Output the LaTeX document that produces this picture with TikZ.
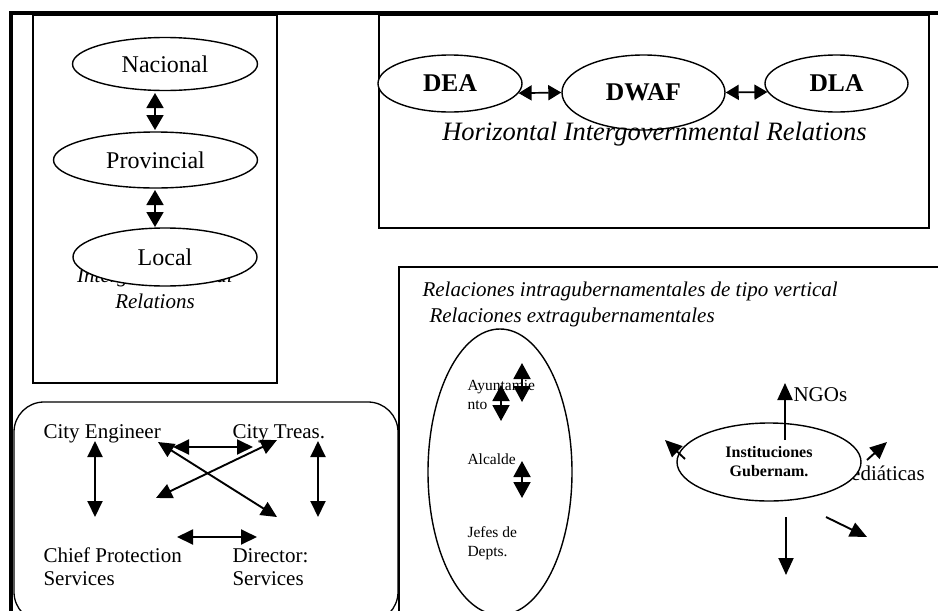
\documentclass[tikz,border=0pt]{standalone}
\usepackage{fontspec}
\setmainfont{Liberation Serif}
\usetikzlibrary{shapes.geometric,arrows.meta}
\begin{document}
\begin{tikzpicture}[x=1pt,y=-1pt,
  frame/.style={line width=4pt},
  box/.style={draw,line width=1.3pt},
  oval/.style={ellipse,draw,line width=1.4pt,fill=white,inner sep=0pt},
  big/.style={font=\fontsize{24}{28}\selectfont},
  bigb/.style={font=\bfseries\fontsize{25.5}{30}\selectfont},
  lbl/.style={font=\fontsize{21}{23}\selectfont},
  ital/.style={font=\itshape\fontsize{21}{23}\selectfont},
  small/.style={font=\fontsize{15.5}{17}\selectfont},
  dbl/.style={line width=1.9pt,{Triangle[length=16pt,width=15pt]}-{Triangle[length=16pt,width=15pt]}},
  dbls/.style={line width=1.9pt,{Triangle[length=15pt,width=17pt]}-{Triangle[length=15pt,width=17pt]}},
  dblh/.style={line width=1.7pt,{Triangle[length=13pt,width=15pt]}-{Triangle[length=13pt,width=15pt]}},
  dblb/.style={line width=1.9pt,{Triangle[length=16pt,width=17pt]}-{Triangle[length=16pt,width=17pt]}},
  sgl/.style={line width=1.9pt,-{Triangle[length=17pt,width=15pt]}}]
\useasboundingbox (0,0) rectangle (938,611);
\fill[white] (0,0) rectangle (938,611);

% outer frame
\draw[frame] (11,611) -- (11,13) -- (938,13);

% ---------- left box: vertical relations ----------
\draw[box] (33,15) rectangle (277,383);
\node[ital,anchor=base] (vt1) at (155,282) {Intergovernmental};
\node[ital,anchor=base] (vt2) at (155,308) {Relations};
\node[oval,big,minimum width=185pt,minimum height=53pt] (nac) at (165,64) {Nacional};
\node[oval,big,minimum width=204pt,minimum height=56pt] (prov) at (155.5,160) {Provincial};
\node[oval,big,minimum width=184pt,minimum height=58pt] (loc) at (165,257) {Local};
\coordinate (a1) at (155,93);  \coordinate (a2) at (155,130);
\coordinate (a3) at (155,190); \coordinate (a4) at (155,227);
\draw[dbls] (a1) -- (a2);
\draw[dbls] (a3) -- (a4);

% ---------- top right box: horizontal relations ----------
\draw[box] (379,15) rectangle (929,228);
\node[oval,bigb,minimum width=144pt,minimum height=57pt] (dea) at (450,83.5) {DEA};
\node[oval,bigb,minimum width=163pt,minimum height=75pt] (dwaf) at (643.5,92.5) {DWAF};
\node[oval,bigb,minimum width=143pt,minimum height=57pt] (dla) at (836.5,83.5) {DLA};
\node[font=\itshape\fontsize{26.5}{30}\selectfont,anchor=base] (hor) at (654.5,140) {Horizontal Intergovernmental Relations};
\draw[dblh] (dea.-8) -- (dwaf.west);
\draw[dblh] (dwaf.east) -- (dla.-173);

% ---------- rounded box: city officials ----------
\draw[box,rounded corners=30pt] (14,402) rectangle (398,622);
\node[lbl,anchor=base west] (ce) at (40,438) {City Engineer};
\node[lbl,anchor=base west] (ct) at (229,438) {City Treas.};
\node[lbl,anchor=base west] (cp1) at (40,562) {Chief Protection};
\node[lbl,anchor=base west] (cp2) at (40,585) {Services};
\node[lbl,anchor=base west] (ds1) at (229,562) {Director:};
\node[lbl,anchor=base west] (ds2) at (229,585) {Services};
\coordinate (l1) at (95,441);  \coordinate (l2) at (95,517);
\coordinate (r1) at (318,441); \coordinate (r2) at (318,517);
\coordinate (t1) at (173,447); \coordinate (t2) at (253,447);
\coordinate (b1) at (177,537); \coordinate (b2) at (257,537);
\coordinate (d1) at (158,442); \coordinate (d2) at (277,517);
\coordinate (e1) at (277,440); \coordinate (e2) at (156,498);
\draw[dbl] (l1) -- (l2);
\draw[dbl] (r1) -- (r2);
\draw[dbl] (t1) -- (t2);
\draw[dbl] (b1) -- (b2);
\draw[dbl] (d1) -- (d2);
\draw[dbl] (e1) -- (e2);

% ---------- lower right box ----------
\draw[box] (399,620) -- (399,267) -- (945,267);
\node[ital,anchor=base west] (rv) at (419,296) {Relaciones intragubernamentales de tipo vertical};
\node[ital,anchor=base west] (re) at (426,322) {Relaciones extragubernamentales};

\node[ellipse,draw,line width=1.4pt,inner sep=0pt,minimum width=144pt,minimum height=286pt] (col) at (500,472) {};
\node[small,anchor=base west] (ay1) at (464,390) {Ayuntamie};
\node[small,anchor=base west] (ay2) at (464,409) {nto};
\node[small,anchor=base west] (alc) at (464,464) {Alcalde};
\node[small,anchor=base west] (jf1) at (464,537) {Jefes de};
\node[small,anchor=base west] (jf2) at (464,556) {Depts.};
\coordinate (v1) at (522,363); \coordinate (v2) at (522,402);
\coordinate (v3) at (501,385); \coordinate (v4) at (501,421);
\coordinate (v5) at (522,461); \coordinate (v6) at (522,498);
\draw[dblb] (v1) -- (v2);
\draw[dblb] (v3) -- (v4);
\draw[dblb] (v5) -- (v6);

\node[lbl,anchor=base west] (ngo) at (790,401) {NGOs};
\node[lbl,anchor=base west] (med) at (829,480) {Mediáticas};
\node[oval,align=center,font=\bfseries\fontsize{16}{19}\selectfont,minimum width=184pt,minimum height=78pt] (inst) at (769,462) {Instituciones\\Gubernam.};
\coordinate (n0) at (785,440); \coordinate (n1) at (785,383);
\coordinate (w0) at (685,459); \coordinate (w1) at (665,440);
\coordinate (q0) at (867,460); \coordinate (q1) at (887,442);
\coordinate (s0) at (786,517); \coordinate (s1) at (786,575);
\coordinate (z0) at (826,517); \coordinate (z1) at (867,537);
\draw[sgl] (n0) -- (n1);
\draw[sgl] (w0) -- (w1);
\draw[sgl] (q0) -- (q1);
\draw[sgl] (s0) -- (s1);
\draw[sgl] (z0) -- (z1);
\end{tikzpicture}
\end{document}
